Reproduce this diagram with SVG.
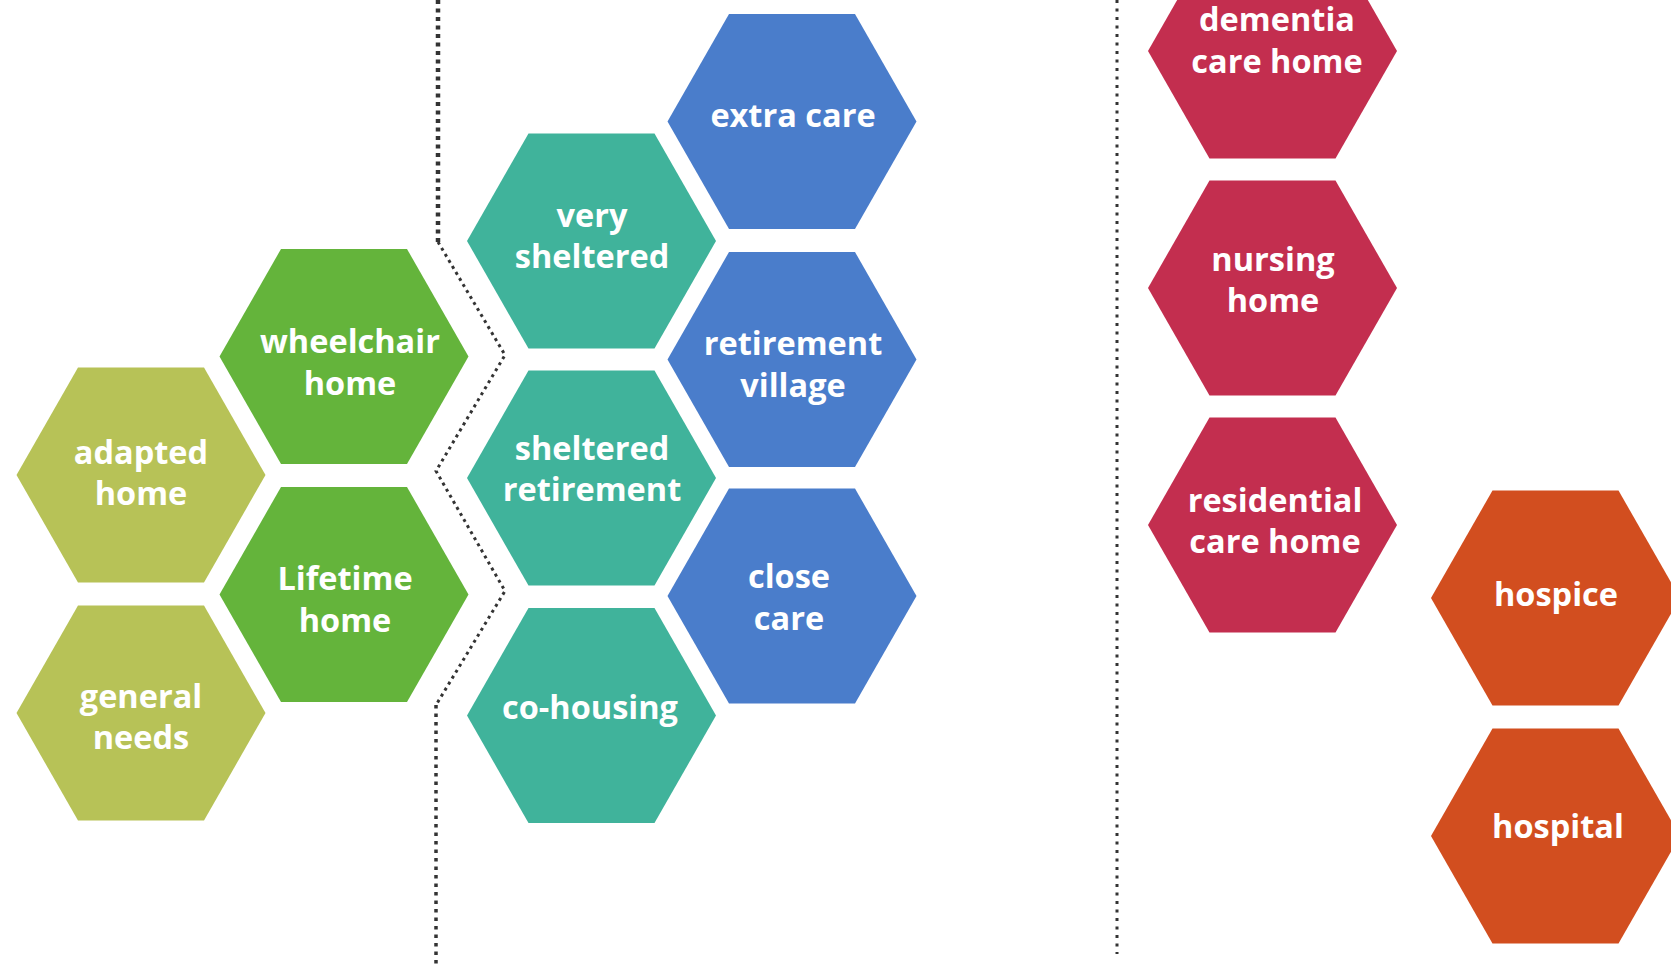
<svg xmlns="http://www.w3.org/2000/svg" xmlns:xlink="http://www.w3.org/1999/xlink" width="1671" height="965" viewBox="0 0 1671 965">
<style>
.olive{fill:#B7C257}
.green{fill:#64B43B}
.teal{fill:#40B39B}
.blue{fill:#4A7DCB}
.red{fill:#C32E4F}
.orange{fill:#D24E1F}
text{font-family:"Open Sans","Noto Sans","Liberation Sans",sans-serif;font-weight:700;font-size:32.5px;fill:#FFFFFF;text-anchor:middle}
.dot{fill:none;stroke:#333333}
</style>
<defs>
<polygon id="hex" points="-124.5,0 -63,-107.5 63,-107.5 124.5,0 63,107.5 -63,107.5"/>
</defs>
<rect width="1671" height="965" fill="#FFFFFF"/>
<g id="connectors">
<path class="dot" d="M438,0 V242" stroke-width="4.5" stroke-dasharray="4 4.5"/>
<path class="dot" d="M438,242 L505,355 L436,471 L505,591 L436,705" stroke-width="3" stroke-dasharray="3 4"/>
<path class="dot" d="M436,705 V965" stroke-width="3.5" stroke-dasharray="3.5 5"/>
<path class="dot" d="M1117,0 V954" stroke-width="3" stroke-dasharray="3 5.5"/>
</g>
<g id="adapted-home"><use xlink:href="#hex" class="olive" x="141" y="475"/><text x="141" y="464">adapted</text><text x="141" y="505">home</text></g>
<g id="general-needs"><use xlink:href="#hex" class="olive" x="141" y="713"/><text x="141" y="708">general</text><text x="141" y="749">needs</text></g>
<g id="wheelchair-home"><use xlink:href="#hex" class="green" x="344" y="356.5"/><text x="350" y="353">wheelchair</text><text x="350" y="395">home</text></g>
<g id="lifetime-home"><use xlink:href="#hex" class="green" x="344" y="594.5"/><text x="345" y="590">Lifetime</text><text x="345" y="632">home</text></g>
<g id="very-sheltered"><use xlink:href="#hex" class="teal" x="591.5" y="241"/><text x="592" y="227">very</text><text x="592" y="268">sheltered</text></g>
<g id="sheltered-retirement"><use xlink:href="#hex" class="teal" x="591.5" y="478"/><text x="592" y="460">sheltered</text><text x="592" y="501">retirement</text></g>
<g id="co-housing"><use xlink:href="#hex" class="teal" x="591.5" y="715.5"/><text x="590" y="719">co-housing</text></g>
<g id="extra-care"><use xlink:href="#hex" class="blue" x="792" y="121.5"/><text x="793" y="127">extra care</text></g>
<g id="retirement-village"><use xlink:href="#hex" class="blue" x="792" y="359.5"/><text x="793" y="355">retirement</text><text x="793" y="397">village</text></g>
<g id="close-care"><use xlink:href="#hex" class="blue" x="792" y="596"/><text x="789" y="587.5">close</text><text x="789" y="630">care</text></g>
<g id="dementia-care-home"><use xlink:href="#hex" class="red" x="1272.5" y="51"/><text x="1277" y="31">dementia</text><text x="1277" y="73">care home</text></g>
<g id="nursing-home"><use xlink:href="#hex" class="red" x="1272.5" y="288"/><text x="1273" y="271">nursing</text><text x="1273" y="312">home</text></g>
<g id="residential-care-home"><use xlink:href="#hex" class="red" x="1272.5" y="525"/><text x="1275" y="512">residential</text><text x="1275" y="553">care home</text></g>
<g id="hospice"><use xlink:href="#hex" class="orange" x="1555.5" y="598"/><text x="1556" y="606">hospice</text></g>
<g id="hospital"><use xlink:href="#hex" class="orange" x="1555.5" y="836"/><text x="1558" y="838">hospital</text></g>
</svg>
